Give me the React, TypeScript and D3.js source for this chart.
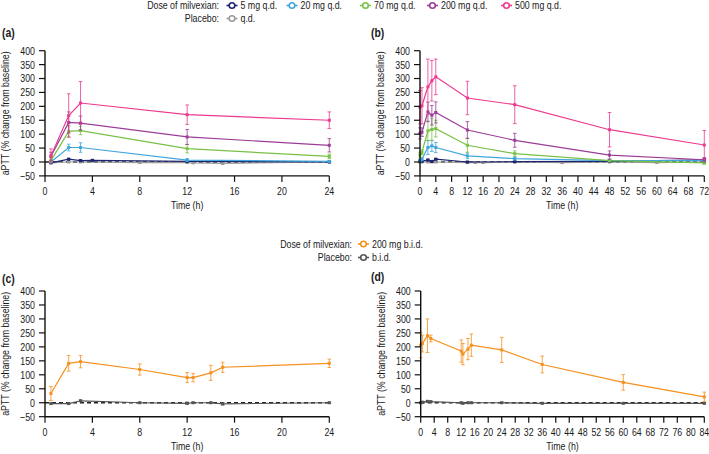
import React from "react";
import * as d3 from "d3";

// ---------- DATA ----------
// Panel (a): single dose q.d.
const timesA = [0.5, 2, 3, 12, 24];
const timesA5 = [0.5, 2, 3, 4, 12, 24];
const timesAPbo = [0.5, 2, 3, 8, 12, 12.5, 15, 24];
const a5mg = [-3, 10, 5, 6, 2, 0];
const a5mgErr = [2, 3, 3, 3, 2, 2];
const a20mg = [0, 52, 52, 7, 2];
const a20mgErr = [3, 12, 17, 5, 3];
const a70mg = [5, 110, 113, 48, 20];
const a70mgErr = [5, 20, 15, 15, 8];
const a200mg = [20, 142, 140, 90, 60];
const a200mgErr = [15, 38, 25, 27, 24];
const a500mg = [22, 167, 212, 170, 150];
const a500mgErr = [25, 78, 77, 35, 30];
const aPbo = [-3, 0, 0, -2, -2, -3, -5, 0];
const aPboErr = [2, 2, 2, 2, 2, 2, 3, 2];

// Panel (b): multiple dose q.d.
const timesB = [0, 0.5, 2, 3, 4, 12, 24, 48, 72];
const timesBPbo = [0, 0.5, 2, 3, 4, 12, 14, 16, 24, 36, 48, 60, 72];
const b5mg = [2, 3, 7, 2, 10, 0, 1, 2, 8];
const b5mgErr = [2, 2, 3, 3, 3, 2, 2, 2, 3];
const b20mg = [5, 10, 52, 58, 52, 22, 12, 5, 5];
const b20mgErr = [4, 5, 25, 20, 18, 10, 5, 4, 4];
const b70mg = [25, 35, 112, 117, 120, 60, 30, 5, -3];
const b70mgErr = [10, 8, 35, 40, 30, 25, 10, 5, 5];
const b200mg = [103, 107, 180, 168, 178, 115, 78, 25, 8];
const b200mgErr = [20, 15, 35, 35, 38, 30, 25, 15, 8];
const b500mg = [197, 202, 270, 292, 306, 230, 206, 116, 61];
const b500mgErr = [60, 65, 100, 73, 64, 60, 68, 62, 52];
const bPbo = [0, 0, 0, 0, 0, -2, -2, -2, 0, -2, 0, -2, 0];
const bPboErr = [2, 2, 2, 2, 2, 2, 2, 2, 2, 2, 2, 2, 2];

// Panel (c): single dose b.i.d.
const timesC = [0.5, 2, 3, 8, 12, 12.5, 14, 15, 24];
const c200mg = [33, 141, 147, 119, 90, 90, 107, 127, 141];
const c200mgErr = [25, 28, 22, 20, 18, 15, 27, 18, 15];
const cPbo = [-3, -3, 7, 0, -2, 0, 0, -4, 0];
const cPboErr = [2, 2, 3, 2, 4, 2, 2, 4, 2];

// Panel (d): multiple dose b.i.d.
const timesD = [0, 0.5, 2, 3, 12, 12.5, 14, 15, 24, 36, 60, 84];
const d200mg = [206, 212, 240, 230, 185, 174, 192, 206, 189, 137, 73, 21];
const d200mgErr = [45, 30, 60, 12, 40, 38, 38, 40, 45, 30, 28, 17];
const dPbo = [0, 2, 5, 4, 0, -2, 0, 0, 0, -2, -2, -2];
const dPboErr = [2, 2, 2, 2, 2, 2, 2, 2, 2, 2, 2, 2];

const yTicks = [-50, 0, 50, 100, 150, 200, 250, 300, 350, 400];

const legendQd = ["5 mg q.d.", "20 mg q.d.", "70 mg q.d.", "200 mg q.d.", "500 mg q.d."];
const legendBid = ["200 mg b.i.d."];

// ---------- STYLE ----------
const C = {
  navy: "#1d2470",
  blue: "#3fa6dc",
  green: "#78c144",
  purple: "#9a3c98",
  pink: "#ec3a8e",
  gray: "#9a9a9a",
  orange: "#f6901e",
  dgray: "#555555",
};
const FONT = "'Liberation Sans', Arial, sans-serif";
const SQUEEZE = 0.8;

type TProps = {
  x: number;
  y: number;
  anchor?: "start" | "middle" | "end";
  size?: number;
  bold?: boolean;
  rotate?: number;
  dy?: string;
  children: React.ReactNode;
};

function T({ x, y, anchor = "start", size = 11, bold = false, rotate = 0, dy, children }: TProps) {
  return (
    <text
      transform={`translate(${x},${y}) rotate(${rotate}) scale(${SQUEEZE},1)`}
      textAnchor={anchor}
      fontFamily={FONT}
      fontSize={size}
      fontWeight={bold ? "bold" : "normal"}
      fill="#1a1a1a"
      dy={dy}
    >
      {children}
    </text>
  );
}

type Series = { t: number[]; v: number[]; e: number[]; color: string };

type PanelProps = {
  left: number;
  right: number;
  yTop: number;
  yBot: number;
  xMax: number;
  xTickVals: number[];
  series: Series[];
  label: string;
  labelX: number;
  labelY: number;
};

function Panel({ left, right, yTop, yBot, xMax, xTickVals, series, label, labelX, labelY }: PanelProps) {
  const x = d3.scaleLinear().domain([0, xMax]).range([left, right]);
  const y = d3.scaleLinear().domain([-50, 400]).range([yBot, yTop]);
  const line = d3
    .line<[number, number]>()
    .x((d) => x(d[0]))
    .y((d) => y(d[1]));
  const axisY = yBot;
  return (
    <g>
      <T x={labelX} y={labelY} bold size={13}>
        {label}
      </T>
      {/* zero reference */}
      <line x1={x(0)} x2={x(xMax)} y1={y(0)} y2={y(0)} stroke="#222" strokeWidth={1.3} strokeDasharray="4,3" />
      {series.map((s, i) => {
        const pts: [number, number][] = s.t.map((t, j) => [t, s.v[j]]);
        return (
          <g key={i}>
            {pts.map((p, j) => (
              <g key={j} stroke={s.color} strokeOpacity={0.8} strokeWidth={1}>
                <line x1={x(p[0])} x2={x(p[0])} y1={y(p[1] - s.e[j])} y2={y(p[1] + s.e[j])} />
                <line x1={x(p[0]) - 1.8} x2={x(p[0]) + 1.8} y1={y(p[1] - s.e[j])} y2={y(p[1] - s.e[j])} />
                <line x1={x(p[0]) - 1.8} x2={x(p[0]) + 1.8} y1={y(p[1] + s.e[j])} y2={y(p[1] + s.e[j])} />
              </g>
            ))}
            <path d={line(pts) || ""} fill="none" stroke={s.color} strokeWidth={1.2} />
            {pts.map((p, j) => (
              <rect key={j} x={x(p[0]) - 1.5} y={y(p[1]) - 1.5} width={3} height={3} fill={s.color} />
            ))}
          </g>
        );
      })}
      {/* axes */}
      <line x1={left} x2={left} y1={yTop} y2={axisY} stroke="#111" strokeWidth={1.4} />
      <line x1={left} x2={right} y1={axisY} y2={axisY} stroke="#111" strokeWidth={1.4} />
      {yTicks.map((t) => (
        <g key={t}>
          <line x1={left - 6} x2={left} y1={y(t)} y2={y(t)} stroke="#111" strokeWidth={1.2} />
          <T x={left - 10} y={y(t)} dy="0.36em" anchor="end">
            {t < 0 ? "\u2212" + Math.abs(t) : String(t)}
          </T>
        </g>
      ))}
      {xTickVals.map((t) => (
        <g key={t}>
          <line x1={x(t)} x2={x(t)} y1={axisY} y2={axisY + 6} stroke="#111" strokeWidth={1.2} />
          <T x={x(t)} y={axisY + 19} anchor="middle">
            {String(t)}
          </T>
        </g>
      ))}
      <T x={(left + right) / 2} y={axisY + 33} anchor="middle">
        Time (h)
      </T>
      <T x={left - 36} y={(yTop + yBot) / 2} anchor="middle" rotate={-90}>
        aPTT (% change from baseline)
      </T>
    </g>
  );
}

function LegendItem({ x, y, color, label }: { x: number; y: number; color: string; label: string }) {
  return (
    <g>
      <line x1={x} x2={x + 11} y1={y} y2={y} stroke={color} strokeWidth={1.6} />
      <circle cx={x + 5.5} cy={y} r={2.8} fill="white" stroke={color} strokeWidth={1.6} />
      <T x={x + 14} y={y} dy="0.36em">
        {label}
      </T>
    </g>
  );
}

export default function App() {
  const qdColors = [C.navy, C.blue, C.green, C.purple, C.pink];
  const qdX = [226.5, 286.5, 360, 427, 501];
  const seriesA: Series[] = [
    { t: timesAPbo, v: aPbo, e: aPboErr, color: C.gray },
    { t: timesA5, v: a5mg, e: a5mgErr, color: C.navy },
    { t: timesA, v: a20mg, e: a20mgErr, color: C.blue },
    { t: timesA, v: a70mg, e: a70mgErr, color: C.green },
    { t: timesA, v: a200mg, e: a200mgErr, color: C.purple },
    { t: timesA, v: a500mg, e: a500mgErr, color: C.pink },
  ];
  const seriesB: Series[] = [
    { t: timesBPbo, v: bPbo, e: bPboErr, color: C.gray },
    { t: timesB, v: b5mg, e: b5mgErr, color: C.navy },
    { t: timesB, v: b20mg, e: b20mgErr, color: C.blue },
    { t: timesB, v: b70mg, e: b70mgErr, color: C.green },
    { t: timesB, v: b200mg, e: b200mgErr, color: C.purple },
    { t: timesB, v: b500mg, e: b500mgErr, color: C.pink },
  ];
  const seriesC: Series[] = [
    { t: timesC, v: cPbo, e: cPboErr, color: C.dgray },
    { t: timesC, v: c200mg, e: c200mgErr, color: C.orange },
  ];
  const seriesD: Series[] = [
    { t: timesD, v: dPbo, e: dPboErr, color: C.dgray },
    { t: timesD, v: d200mg, e: d200mgErr, color: C.orange },
  ];
  const ticks24 = d3.range(0, 25, 4);
  const ticks72 = d3.range(0, 73, 4);
  const ticks84 = d3.range(0, 85, 4);

  return (
    <svg
      width={709}
      height={454}
      style={{ position: "absolute", left: 0, top: 0, background: "white" }}
    >
      {/* legend top */}
      <T x={219} y={5.5} dy="0.36em" anchor="end">
        Dose of milvexian:
      </T>
      <T x={219} y={18.5} dy="0.36em" anchor="end">
        Placebo:
      </T>
      {legendQd.map((l, i) => (
        <LegendItem key={l} x={qdX[i]} y={5.5} color={qdColors[i]} label={l} />
      ))}
      <LegendItem x={226.5} y={18.5} color={C.gray} label="q.d." />

      {/* legend bottom */}
      <T x={352} y={244} dy="0.36em" anchor="end">
        Dose of milvexian:
      </T>
      <T x={352} y={257.5} dy="0.36em" anchor="end">
        Placebo:
      </T>
      {legendBid.map((l) => (
        <LegendItem key={l} x={358} y={244} color={C.orange} label={l} />
      ))}
      <LegendItem x={358} y={257.5} color={C.dgray} label="b.i.d." />

      <Panel left={45} right={329.3} yTop={50.7} yBot={175.9} xMax={24} xTickVals={ticks24} series={seriesA} label="(a)" labelX={2} labelY={37} />
      <Panel left={420} right={704.3} yTop={50.7} yBot={175.9} xMax={72} xTickVals={ticks72} series={seriesB} label="(b)" labelX={371} labelY={37} />
      <Panel left={45} right={329.3} yTop={291} yBot={416.7} xMax={24} xTickVals={ticks24} series={seriesC} label="(c)" labelX={2} labelY={283} />
      <Panel left={420.7} right={704.3} yTop={291} yBot={416.7} xMax={84} xTickVals={ticks84} series={seriesD} label="(d)" labelX={371} labelY={281} />
    </svg>
  );
}
